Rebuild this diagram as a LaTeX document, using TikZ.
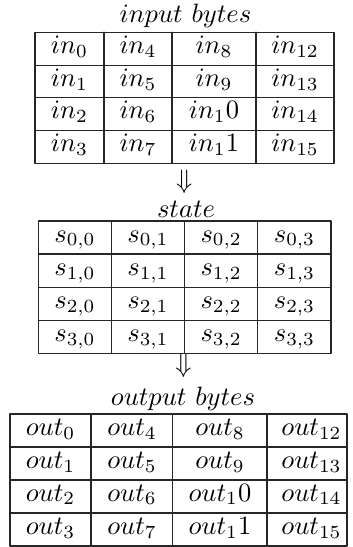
\documentclass[tikz,border=0pt]{standalone}
\usepackage{amssymb}
\usepackage{tikz}
\tikzset{rule/.style={draw=black!85,line width=.4pt},
 cell/.style={anchor=base,inner sep=0pt},
 caption/.style={anchor=base,inner sep=0pt},
 every picture/.style={line join=round,line cap=round}}

\begin{document}
\begin{tikzpicture}[]
\useasboundingbox (0.000,0.000) rectangle (4.669,-7.255);
\node[caption] (inhead) at (2.460,-0.292) {$input\ bytes$};
\draw[rule] (0.464,-0.428) rectangle (4.430,-2.166);
\draw[rule] (0.464,-0.863) -- (4.430,-0.863);
\draw[rule] (0.464,-1.297) -- (4.430,-1.297);
\draw[rule] (0.464,-1.731) -- (4.430,-1.731);
\draw[rule] (1.379,-0.428) -- (1.379,-2.166);
\draw[rule] (2.281,-0.428) -- (2.281,-2.166);
\draw[rule] (3.395,-0.428) -- (3.395,-2.166);
\node[cell] (in0) at (0.921,-0.707) {$in_0$};
\node[cell] (in4) at (1.830,-0.707) {$in_4$};
\node[cell] (in8) at (2.838,-0.707) {$in_8$};
\node[cell] (in12) at (3.913,-0.707) {$in_{12}$};
\node[cell] (in1) at (0.921,-1.142) {$in_1$};
\node[cell] (in5) at (1.830,-1.142) {$in_5$};
\node[cell] (in9) at (2.838,-1.142) {$in_9$};
\node[cell] (in13) at (3.913,-1.142) {$in_{13}$};
\node[cell] (in2) at (0.921,-1.576) {$in_2$};
\node[cell] (in6) at (1.830,-1.576) {$in_6$};
\node[cell] (in10) at (2.838,-1.576) {$in_10$};
\node[cell] (in14) at (3.913,-1.576) {$in_{14}$};
\node[cell] (in3) at (0.921,-2.010) {$in_3$};
\node[cell] (in7) at (1.830,-2.010) {$in_7$};
\node[cell] (in11) at (2.838,-2.010) {$in_11$};
\node[cell] (in15) at (3.913,-2.010) {$in_{15}$};
\node (arrA) at (2.442,-2.414) {$\Downarrow$};
\node[caption] (sthead) at (2.467,-2.891) {$state$};
\draw[rule] (0.508,-2.931) rectangle (4.390,-4.686);
\draw[rule] (0.508,-3.369) -- (4.390,-3.369);
\draw[rule] (0.508,-3.809) -- (4.390,-3.809);
\draw[rule] (0.508,-4.248) -- (4.390,-4.248);
\draw[rule] (1.479,-2.931) -- (1.479,-4.686);
\draw[rule] (2.447,-2.931) -- (2.447,-4.686);
\draw[rule] (3.419,-2.931) -- (3.419,-4.686);
\node[cell] (s00) at (0.994,-3.210) {$s_{0,0}$};
\node[cell] (s01) at (1.963,-3.210) {$s_{0,1}$};
\node[cell] (s02) at (2.933,-3.210) {$s_{0,2}$};
\node[cell] (s03) at (3.905,-3.210) {$s_{0,3}$};
\node[cell] (s10) at (0.994,-3.648) {$s_{1,0}$};
\node[cell] (s11) at (1.963,-3.648) {$s_{1,1}$};
\node[cell] (s12) at (2.933,-3.648) {$s_{1,2}$};
\node[cell] (s13) at (3.905,-3.648) {$s_{1,3}$};
\node[cell] (s20) at (0.994,-4.088) {$s_{2,0}$};
\node[cell] (s21) at (1.963,-4.088) {$s_{2,1}$};
\node[cell] (s22) at (2.933,-4.088) {$s_{2,2}$};
\node[cell] (s23) at (3.905,-4.088) {$s_{2,3}$};
\node[cell] (s30) at (0.994,-4.527) {$s_{3,0}$};
\node[cell] (s31) at (1.963,-4.527) {$s_{3,1}$};
\node[cell] (s32) at (2.933,-4.527) {$s_{3,2}$};
\node[cell] (s33) at (3.905,-4.527) {$s_{3,3}$};
\node (arrB) at (2.434,-4.854) {$\Downarrow$};
\node[caption] (outhead) at (2.427,-5.372) {$output\ bytes$};
\draw[rule] (0.133,-5.491) rectangle (4.602,-7.242);
\draw[rule] (0.133,-5.929) -- (4.602,-5.929);
\draw[rule] (0.133,-6.366) -- (4.602,-6.366);
\draw[rule] (0.133,-6.804) -- (4.602,-6.804);
\draw[rule] (1.207,-5.491) -- (1.207,-7.242);
\draw[rule] (2.294,-5.491) -- (2.294,-7.242);
\draw[rule] (3.541,-5.491) -- (3.541,-7.242);
\node[cell] (out0) at (0.670,-5.770) {$out_0$};
\node[cell] (out4) at (1.751,-5.770) {$out_4$};
\node[cell] (out8) at (2.918,-5.770) {$out_8$};
\node[cell] (out12) at (4.131,-5.770) {$out_{12}$};
\node[cell] (out1) at (0.670,-6.208) {$out_1$};
\node[cell] (out5) at (1.751,-6.208) {$out_5$};
\node[cell] (out9) at (2.918,-6.208) {$out_9$};
\node[cell] (out13) at (4.131,-6.208) {$out_{13}$};
\node[cell] (out2) at (0.670,-6.645) {$out_2$};
\node[cell] (out6) at (1.751,-6.645) {$out_6$};
\node[cell] (out10) at (2.918,-6.645) {$out_10$};
\node[cell] (out14) at (4.131,-6.645) {$out_{14}$};
\node[cell] (out3) at (0.670,-7.083) {$out_3$};
\node[cell] (out7) at (1.751,-7.083) {$out_7$};
\node[cell] (out11) at (2.918,-7.083) {$out_11$};
\node[cell] (out15) at (4.131,-7.083) {$out_{15}$};
\end{tikzpicture}
\end{document}
